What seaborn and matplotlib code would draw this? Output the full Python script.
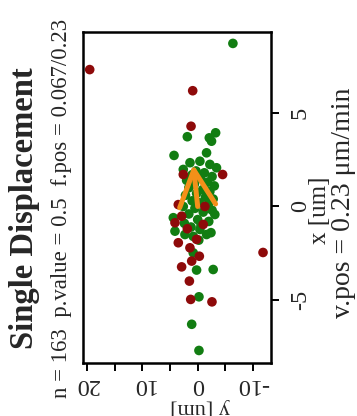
import numpy as np
import pandas as pd
import matplotlib
matplotlib.use("Agg")
import matplotlib.pyplot as plt
import seaborn as sns

# -------------------------------------------
# DATA  (x [um] is drawn vertically, y [um] horizontally, plot turned 90 deg)
# -------------------------------------------
green_x = [8.72, 3.94, 3.73, 3.67, 3.49, 2.87, 2.73, 2.42, 2.34, 2.25, 2.07, 1.98,
           1.9, 1.8, 1.7, 1.6, 1.5, 1.4, 1.3, 1.2, 1.1, 1.0, 0.9, 0.8, 0.7, 0.6,
           0.5, 0.4, 0.3, 0.2, 0.1, 0.0, -0.1, -0.2, -0.3, -0.4, -0.43, -0.6, -0.7,
           -0.8, -0.9, -1.0, -1.1, -1.23, -1.32, -1.4, -1.5, -1.5, -1.6, -1.8,
           -2.48, -3.4, -3.37, -4.83, -6.3, -7.7]
green_y = [-6.36, -3.24, 1.87, -2.1, -2.5, -1.6, 4.27, -0.4, 1.39, -2.2, -3.4, 2.6,
           0.3, -1.2, 1.0, -2.6, -0.5, 2.0, -1.8, 0.6, -3.0, 1.6, -0.9, -2.2, 0.2, 2.2,
           -1.4, -2.8, 1.0, -0.3, -1.9, 2.6, 0.5, -2.6, -1.0, 1.6, -3.1, 4.4, 0.0,
           -2.0, 2.4, -0.6, 1.2, -0.4, 4.1, -2.4, 2.3, -1.6, 0.8, -0.2,
           0.8, 0.2, -2.8, -0.23, 1.08, -0.23]

red_x = [7.32, 6.19, 4.29, 1.71, 1.71, 0.1, 0.0, -0.52, -0.87, -0.96, -1.19, -1.76,
         -1.94, -2.21, -2.46, -2.66, -2.92, -3.23, -3.99, -4.97, -5.1]
red_y = [19.5, 0.9, 1.2, -4.5, 2.6, 3.5, -1.3, 2.9, 4.1, -1.0, 1.87, 0.2,
         3.5, 1.4, -11.8, -0.3, 1.08, 2.9, 1.5, 1.26, -2.58]

# mean displacement arrow (start / end, in um)
arrow_x = [0.0, 2.25]
arrow_y = [0.0, 0.8]

title = "Single Displacement"
subtitle = "n = 163  p.value = 0.5  f.pos = 0.067/0.23"
vpos_text = "v.pos = 0.23 \u03bcm/min"

df = pd.DataFrame({
    "x": green_x + red_x,
    "y": green_y + red_y,
    "group": ["pos"] * len(green_x) + ["neg"] * len(red_x),
})

# -------------------------------------------
# PLOT
# -------------------------------------------
sns.set_style("white")
plt.rcParams["font.family"] = ["Liberation Serif", "DejaVu Serif"]

W, H = 357, 416
fig = plt.figure(figsize=(W / 100, H / 100), dpi=100)
ax = fig.add_axes([82.5 / W, (H - 363) / H, 188 / W, 331 / H])

sns.scatterplot(data=df, x="y", y="x", hue="group",
                palette={"pos": "#127d12", "neg": "#8e0a0a"},
                s=48, linewidth=0, legend=False, ax=ax)

ax.annotate("", xy=(arrow_y[1], arrow_x[1]), xytext=(arrow_y[0], arrow_x[0]),
            arrowprops=dict(arrowstyle="->,head_length=26,head_width=13",
                            color="#f39019", lw=3.6, mutation_scale=1,
                            shrinkA=0, shrinkB=0))

ax.set_xlim(20.8, -13.15)
ax.set_ylim(-8.37, 9.33)
for s in ax.spines.values():
    s.set_visible(True)
    s.set_color("black")
    s.set_linewidth(1.8)

ax.set_xticks([20, 15, 10, 5, 0, -5, -10])
ax.set_xticklabels(["20", "", "10", "", "0", "", "-10"], rotation=180)
ax.yaxis.tick_right()
ax.set_yticks([-5, 0, 5])
ax.set_yticklabels(["-5", "0", "5"], rotation=90, va="center")
ax.tick_params(axis="both", direction="out", length=6, width=1.4,
               labelsize=17.5, color="black")
ax.tick_params(axis="x", bottom=True, pad=2)
ax.tick_params(axis="y", right=True, left=False, pad=8)
ax.set_xlabel("")
ax.set_ylabel("")

fig.text(200 / W, 1 - 407 / H, "y [um]", rotation=180, ha="center", va="center", fontsize=16)
fig.text(320 / W, 1 - 210 / H, "x [um]", rotation=90, ha="center", va="center", fontsize=18)
fig.text(343 / W, 1 - 203 / H, vpos_text, rotation=90, ha="center", va="center", fontsize=20)
fig.text(25 / W, 1 - 208 / H, title, rotation=90, ha="center", va="center",
         fontsize=23.5, fontweight="bold")
fig.text(62 / W, 1 - 208 / H, subtitle, rotation=90, ha="center", va="center", fontsize=16.4)

fig.savefig("out.png", dpi=100)
